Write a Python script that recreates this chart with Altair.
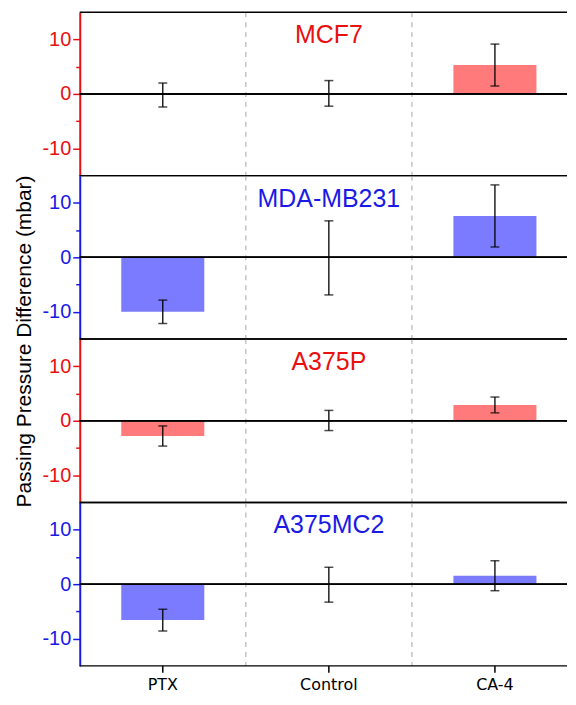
import altair as alt
import pandas as pd

# ---- data ----
treatments = ["PTX", "Control", "CA-4"]
cells = ["MCF7", "MDA-MB231", "A375P", "A375MC2"]

mcf7_mean = [-0.2, 0.1, 5.3]
mcf7_err = [2.2, 2.35, 3.85]
mda_mean = [-10.0, -0.1, 7.6]
mda_err = [2.15, 6.8, 5.7]
a375p_mean = [-2.8, 0.05, 2.9]
a375p_err = [1.85, 1.85, 1.45]
a375mc2_mean = [-6.6, -0.1, 1.55]
a375mc2_err = [2.0, 3.2, 2.75]

means = [mcf7_mean, mda_mean, a375p_mean, a375mc2_mean]
errs = [mcf7_err, mda_err, a375p_err, a375mc2_err]

text_colors = ["#e81010", "#1a1ae6", "#e81010", "#1a1ae6"]
bar_colors = ["#ff7b7b", "#7b7bff", "#ff7b7b", "#7b7bff"]

y_ticks = [-10, -5, 0, 5, 10]
y_domain = [-15, 15]
y_title = "Passing Pressure Difference (mbar)"

W = 489      # visible plot width (page edge cuts the panels, as in the reference)
XR = 500     # full category span, partly beyond the page edge
H = 164


def panel(i):
    last = i == len(cells) - 1
    df = pd.DataFrame({"treatment": treatments, "mean": means[i], "err": errs[i]})
    base = alt.Chart(df).transform_calculate(
        lo="datum.mean - datum.err", hi="datum.mean + datum.err"
    )
    xscale = alt.Scale(domain=treatments, paddingInner=0, paddingOuter=0, range=[0, XR])

    col = text_colors[i]
    yaxis_kwargs = dict(
        values=y_ticks,
        labelExpr="abs(datum.value) % 10 === 0 ? '' + datum.value : ''",
        labelFont="Liberation Sans", labelFontSize=20, labelColor=col,
        labelPadding=2,
        tickColor=col, tickWidth=1.5,
        tickSize={"condition": {"test": "abs(datum.value) % 10 === 0", "value": 7}, "value": 4},
        domainColor=col, domainWidth=2, grid=False,
    )
    if i == 1:
        yaxis = alt.Axis(
            title=y_title, titleFont="Liberation Sans", titleFontSize=21,
            titleFontWeight="normal", titleColor="black", titleX=-55, titleY=H + 2,
            titleAngle=270, titleAlign="center", titleBaseline="middle",
            **yaxis_kwargs,
        )
    else:
        yaxis = alt.Axis(title=None, **yaxis_kwargs)
    yscale = alt.Scale(domain=y_domain, nice=False, zero=False)

    def X(**kw):
        return alt.X("treatment:N", sort=treatments, scale=xscale, axis=None, **kw)

    def Y(field):
        return alt.Y(field, type="quantitative", scale=yscale, axis=yaxis)

    sep_df = pd.DataFrame({"treatment": treatments[1:]})
    seps = alt.Chart(sep_df).mark_rule(
        color="#c4c4c4", strokeDash=[5, 5], strokeWidth=1.5
    ).encode(x=X(bandPosition=0))

    bars = base.mark_bar(
        width=alt.RelativeBandSize(0.5), color=bar_colors[i]
    ).encode(x=X(), y=Y("mean"))

    zero = base.mark_rule(color="black", strokeWidth=1.5).encode(
        y=alt.Y(datum=0, type="quantitative", scale=yscale, axis=yaxis)
    )

    err_rule = base.mark_rule(color="black", strokeWidth=1.3).encode(
        x=X(), y=Y("lo"), y2="hi:Q"
    )
    cap_lo = base.mark_tick(color="black", thickness=1.5, size=9, orient="horizontal").encode(
        x=X(), y=Y("lo")
    )
    cap_hi = base.mark_tick(color="black", thickness=1.5, size=9, orient="horizontal").encode(
        x=X(), y=Y("hi")
    )

    border_df = pd.DataFrame({"k": [0]})
    top_border = alt.Chart(border_df).mark_rule(color="black", strokeWidth=1.5).encode(
        y=alt.value(0)
    )
    bottom_border = alt.Chart(border_df).mark_rule(color="black", strokeWidth=1.5).encode(
        y=alt.value(H)
    )

    title_df = pd.DataFrame({"name": [cells[i]]})
    title = alt.Chart(title_df).mark_text(
        font="Liberation Sans", fontSize=25, color=col, align="center",
        baseline="alphabetic",
    ).encode(text="name:N", x=alt.value(XR / 2), y=alt.value(31))

    layers = [seps, bars, zero, err_rule, cap_lo, cap_hi, top_border, bottom_border, title]

    if last:
        cat_df = pd.DataFrame({"treatment": treatments})
        xticks = alt.Chart(cat_df).mark_rule(color="black", strokeWidth=1.5).encode(
            x=X(), y=alt.value(H), y2=alt.value(H + 7)
        )
        xlabels = alt.Chart(cat_df).mark_text(
            font="DejaVu Sans", fontSize=16, color="black", align="center", baseline="top"
        ).encode(x=X(), y=alt.value(H + 11), text="treatment:N")
        layers += [xticks, xlabels]

    return alt.layer(*layers).properties(width=W, height=H)


chart = (
    alt.vconcat(*[panel(i) for i in range(len(cells))], spacing=0, bounds="flush")
    .properties(padding={"left": 5, "top": 2, "right": 0, "bottom": 0}, background="white")
    .configure_view(stroke=None)
)

chart.save("out.html", embed_options={"renderer": "svg", "actions": False})
